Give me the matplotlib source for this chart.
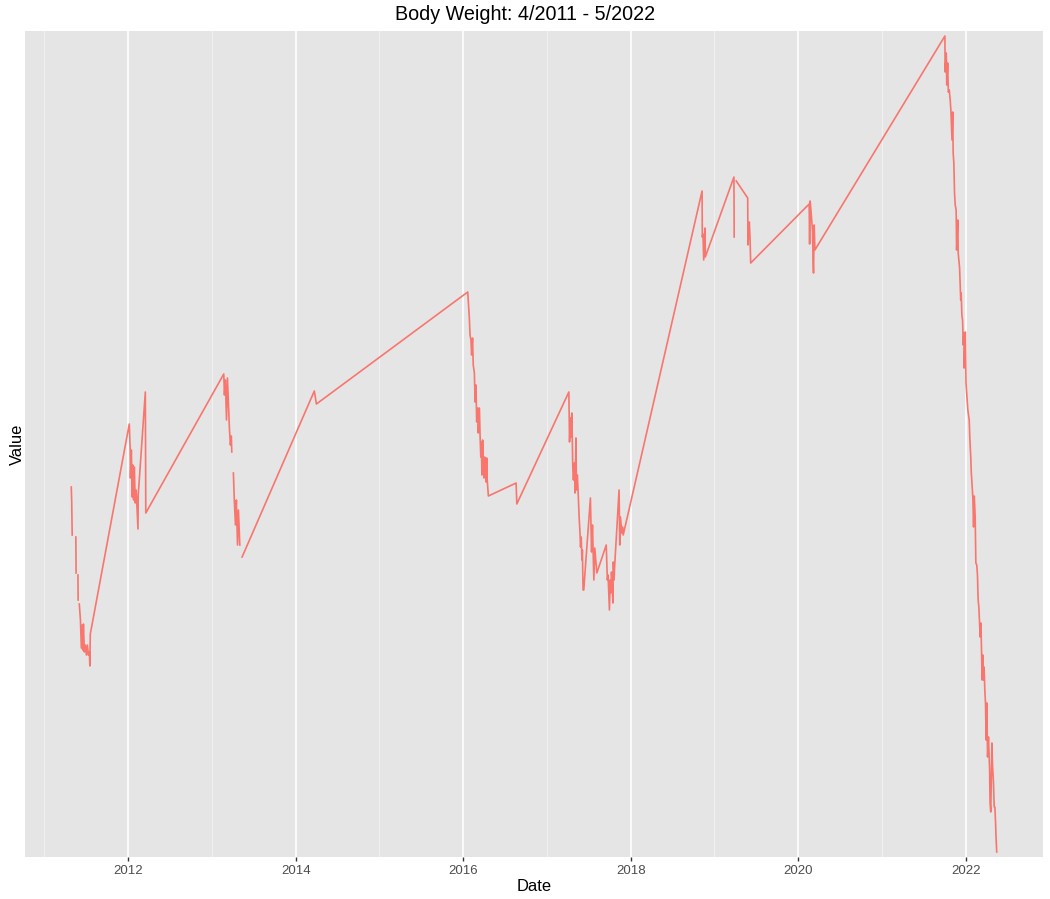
import numpy as np
import pandas as pd
import matplotlib
matplotlib.use("Agg")
import matplotlib.pyplot as plt
import matplotlib.dates as mdates

nan = np.nan

# weigh-ins (nan = missing entry, breaks the line)
dates_2011 = ['2011-04-28', '2011-04-30', '2011-05-02', '2011-05-10', '2011-05-18', '2011-05-19',
              '2011-05-23', '2011-05-27', '2011-05-28', '2011-05-30', '2011-06-02', '2011-06-07',
              '2011-06-11', '2011-06-15', '2011-06-17', '2011-06-20', '2011-06-24', '2011-06-28',
              '2011-07-03', '2011-07-07', '2011-07-12', '2011-07-16', '2011-07-18', '2011-07-20']
weight_2011 = [216.6, 215.0, 211.8, nan, 211.6, 208.0, nan, 207.8, 205.3, nan, 204.9, 203.3,
               200.5, 202.8, 200.3, 202.9, 200.1, 200.8, 199.8, 200.8, 199.8, 200.1, 198.7, 201.9]

dates_2012 = ['2012-01-06', '2012-01-10', '2012-01-11', '2012-01-15', '2012-01-19', '2012-01-21',
              '2012-01-25', '2012-01-28', '2012-02-01', '2012-02-05', '2012-02-13', '2012-02-14',
              '2012-03-16', '2012-03-18']
weight_2012 = [222.9, 220.3, 217.5, 220.3, 215.6, 218.8, 215.3, 218.6, 215.0, 216.3, 212.4, 215.8,
               226.1, 214.0]

dates_2013 = ['2013-02-21', '2013-02-24', '2013-02-28', '2013-03-05', '2013-03-09', '2013-03-13',
              '2013-03-18', '2013-03-22', '2013-03-26', '2013-03-28', '2013-03-31', '2013-04-04',
              '2013-04-08', '2013-04-13', '2013-04-17', '2013-04-22', '2013-04-26', '2013-05-02',
              '2013-05-07', '2013-05-12']
weight_2013 = [227.9, 225.8, 227.3, 223.3, 227.5, 225.3, 222.3, 220.8, 221.7, 220.1, nan, 218.0,
               215.3, 212.8, 215.3, 210.8, 214.3, 210.8, nan, 209.6]

dates_2014 = ['2014-03-23', '2014-04-01']
weight_2014 = [226.2, 224.9]

dates_2016 = ['2016-01-21', '2016-01-28', '2016-01-31', '2016-02-04', '2016-02-07', '2016-02-11',
              '2016-02-14', '2016-02-19', '2016-02-22', '2016-02-26', '2016-02-29', '2016-03-05',
              '2016-03-07', '2016-03-12', '2016-03-15', '2016-03-18', '2016-03-20', '2016-03-23',
              '2016-03-26', '2016-03-29', '2016-04-01', '2016-04-04', '2016-04-07', '2016-04-10',
              '2016-04-13', '2016-04-15', '2016-04-20', '2016-08-19', '2016-08-22']
weight_2016 = [236.1, 233.5, 231.8, 231.3, 229.8, 231.5, 228.8, 228.0, 225.1, 226.8, 223.1, 224.5,
               222.0, 224.5, 221.6, 219.6, 221.1, 217.8, 221.3, 218.8, 217.5, 219.6, 218.0, 217.1,
               219.5, 217.3, 215.7, 217.0, 214.9]

dates_2017 = ['2017-04-06', '2017-04-09', '2017-04-13', '2017-04-16', '2017-04-19', '2017-04-22',
              '2017-04-23', '2017-04-26', '2017-04-30', '2017-05-03', '2017-05-07', '2017-05-09',
              '2017-05-13', '2017-05-17', '2017-05-21', '2017-05-24', '2017-05-27', '2017-05-30',
              '2017-06-02', '2017-06-04', '2017-06-07', '2017-06-10', '2017-07-09', '2017-07-14',
              '2017-07-18', '2017-07-24', '2017-07-28', '2017-08-02', '2017-08-06', '2017-09-16',
              '2017-09-19', '2017-09-21', '2017-09-24', '2017-09-27', '2017-09-30', '2017-10-03',
              '2017-10-06', '2017-10-09', '2017-10-12', '2017-10-15', '2017-10-17', '2017-10-20',
              '2017-10-23', '2017-11-11', '2017-11-14', '2017-11-17', '2017-11-23', '2017-11-26',
              '2017-11-29']
weight_2017 = [226.1, 221.1, 223.5, 221.6, 224.0, 220.3, 218.6, 217.3, 219.0, 216.0, 221.5, 216.3,
               217.8, 215.8, 213.5, 212.3, 210.6, 211.6, 209.3, 210.3, 206.3, 206.3, 215.5, 210.1,
               212.8, 207.3, 210.5, 209.1, 208.0, 210.8, 208.6, 207.3, 207.8, 206.0, 204.3, 207.3,
               206.0, 208.1, 207.0, 205.0, 209.1, 207.3, 208.8, 216.3, 210.8, 213.6, 212.0, 212.6,
               211.8]

dates_2018 = ['2018-11-08', '2018-11-09', '2018-11-12', '2018-11-15', '2018-11-21', '2018-11-22']
weight_2018 = [246.2, 241.6, 241.9, 239.3, 242.5, 239.6]

dates_2019 = ['2019-03-27', '2019-03-28', '2019-04-01', '2019-04-06', '2019-05-26', '2019-05-27',
              '2019-06-02', '2019-06-05', '2019-06-08']
weight_2019 = [247.6, 241.6, nan, 247.2, 245.5, 240.8, 243.1, 241.5, 239.0]

dates_2020 = ['2020-02-18', '2020-02-20', '2020-02-22', '2020-02-25', '2020-03-04', '2020-03-06',
              '2020-03-08', '2020-03-11', '2020-03-14']
weight_2020 = [244.9, 240.9, 245.2, 244.5, 242.1, 239.3, 238.0, 242.8, 240.3]

dates_2021 = ['2021-10-02', '2021-10-03', '2021-10-08', '2021-10-10', '2021-10-14', '2021-10-17',
              '2021-10-21', '2021-10-25', '2021-10-28', '2021-11-02', '2021-11-05', '2021-11-07',
              '2021-11-10', '2021-11-13', '2021-11-16', '2021-11-20', '2021-11-22', '2021-11-27',
              '2021-11-29', '2021-12-05', '2021-12-10', '2021-12-12', '2021-12-15', '2021-12-18',
              '2021-12-21', '2021-12-24', '2021-12-25', '2021-12-30']
weight_2021 = [261.7, 258.1, 260.0, 256.8, 259.0, 256.1, 256.3, 255.3, 254.3, 251.3, 254.1, 250.0,
               249.0, 246.0, 244.8, 244.3, 240.3, 243.3, 240.0, 238.5, 235.3, 236.0, 233.8, 233.3,
               230.8, 232.0, 228.5, 232.1]

dates_2022 = ['2022-01-02', '2022-01-06', '2022-01-10', '2022-01-14', '2022-01-16', '2022-01-19',
              '2022-01-23', '2022-01-25', '2022-01-29', '2022-02-01', '2022-02-04', '2022-02-07',
              '2022-02-11', '2022-02-14', '2022-02-18', '2022-02-21', '2022-02-24', '2022-02-27',
              '2022-03-02', '2022-03-05', '2022-03-08', '2022-03-11', '2022-03-13', '2022-03-16',
              '2022-03-19', '2022-03-22', '2022-03-25', '2022-03-28', '2022-03-31', '2022-04-03',
              '2022-04-06', '2022-04-10', '2022-04-15', '2022-04-17', '2022-04-20', '2022-04-25',
              '2022-04-28', '2022-05-02', '2022-05-05', '2022-05-08', '2022-05-11', '2022-05-13',
              '2022-05-16']
weight_2022 = [227.0, 225.6, 224.3, 223.6, 223.3, 221.3, 219.5, 218.1, 216.6, 215.5, 212.6, 215.7,
               213.6, 209.0, 208.8, 207.8, 205.3, 204.6, 203.0, 201.6, 203.0, 200.0, 197.3, 199.8,
               197.3, 198.6, 196.3, 195.0, 191.3, 195.0, 189.6, 191.6, 188.3, 185.0, 184.1, 191.0,
               188.6, 187.0, 184.6, 184.6, 183.0, 181.6, 180.1]

dates = pd.to_datetime(dates_2011 + dates_2012 + dates_2013 + dates_2014 + dates_2016 + dates_2017
                       + dates_2018 + dates_2019 + dates_2020 + dates_2021 + dates_2022)
weight = np.array(weight_2011 + weight_2012 + weight_2013 + weight_2014 + weight_2016 + weight_2017
                  + weight_2018 + weight_2019 + weight_2020 + weight_2021 + weight_2022)

plt.rcParams['font.family'] = ['Liberation Sans', 'DejaVu Sans']

fig = plt.figure(figsize=(10.5, 8.99), dpi=100)
ax = fig.add_axes([25 / 1050, 42 / 899, 1018 / 1050, 826 / 899])
ax.set_facecolor('#E5E5E5')

ax.plot(dates, weight, color='#F8766D', linewidth=1.2, zorder=3)

# ggplot-like 5% expansion on x
span = dates.max() - dates.min()
ax.set_xlim(dates.min() - span * 0.05, dates.max() + span * 0.05)
ax.set_ylim(np.nanmin(weight) - 0.5, np.nanmax(weight) + 0.5)

ax.xaxis.set_major_locator(mdates.YearLocator(2))
ax.xaxis.set_minor_locator(mdates.YearLocator(1))
ax.xaxis.set_major_formatter(mdates.DateFormatter('%Y'))
ax.grid(which='major', axis='x', color='white', linewidth=1.2)
ax.grid(which='minor', axis='x', color='#F2F2F2', linewidth=0.7)
ax.set_axisbelow(True)

ax.tick_params(axis='x', which='major', length=3, width=1, color='#333333',
               labelsize=9.5, labelcolor='#4D4D4D', pad=3)
ax.tick_params(axis='x', which='minor', length=0)
ax.set_yticks([])
for s in ax.spines.values():
    s.set_visible(False)

ax.set_xlabel('Date', fontsize=11.9, labelpad=1)
ax.set_ylabel('Value', fontsize=11.9, labelpad=0)
fig.text(0.5, 1 - 14 / 899, 'Body Weight: 4/2011 - 5/2022', ha='center', va='center', fontsize=14.2)

fig.savefig('out.png', dpi=100)
